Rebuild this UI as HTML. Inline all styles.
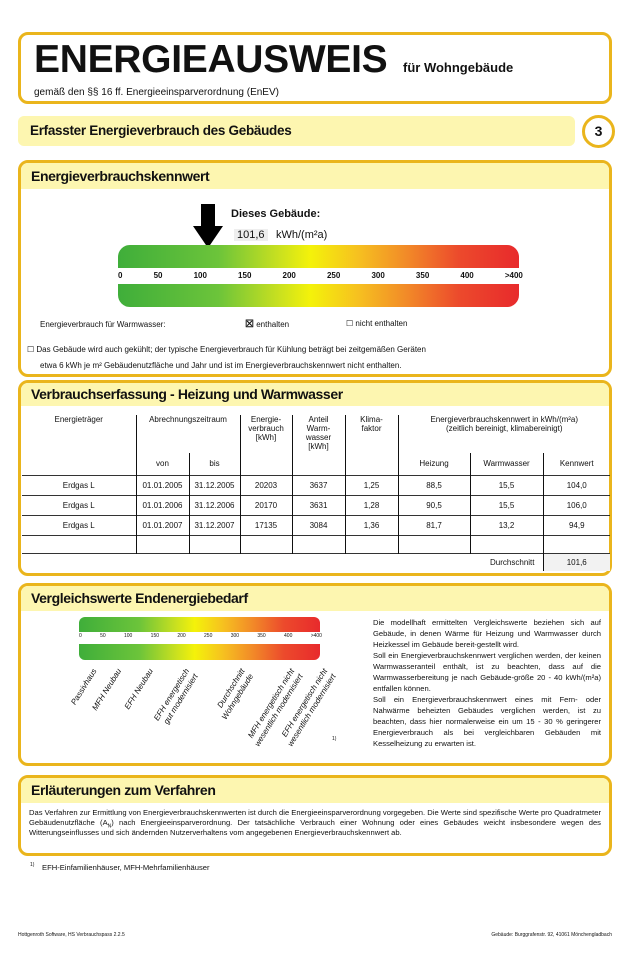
<!DOCTYPE html>
<html><head><meta charset="utf-8"><style>
*{margin:0;padding:0;box-sizing:border-box}
body{width:644px;height:960px;background:#fff;position:relative;font-family:"Liberation Sans",sans-serif;color:#111;overflow:hidden}
.a{position:absolute;white-space:nowrap}
.box{position:absolute;border:3px solid #eab51c;border-radius:10px;background:#fff;overflow:hidden}
.hd{position:absolute;left:0;right:0;top:0;background:#fdf6b0;font-weight:bold;font-size:14px;letter-spacing:-0.4px;padding-left:10px}
.grad{background:linear-gradient(90deg,#3fae3a 0%,#6cc43a 25%,#c8e020 40%,#f4f20a 48%,#f6c020 60%,#f28a28 72%,#ec4a2c 85%,#e82a2c 100%)}
.fs{font-size:8px}
table{border-collapse:collapse;font-size:8px}
td{text-align:center;border-color:#555}
.rot{position:absolute;transform-origin:right top;transform:rotate(-58deg);font-style:italic;font-size:8px;text-align:right;white-space:nowrap;line-height:10px}
</style></head><body>

<div class="box" style="left:18px;top:32px;width:594px;height:72px"></div>
<div class="a" style="left:34px;top:38px;font-size:39px;font-weight:bold;letter-spacing:-0.3px">ENERGIEAUSWEIS</div>
<div class="a" style="left:403px;top:60px;font-size:13px;font-weight:bold">für Wohngebäude</div>
<div class="a" style="left:34px;top:87px;font-size:10px">gemäß den §§ 16 ff. Energieeinsparverordnung (EnEV)</div>

<div class="a" style="left:18px;top:116px;width:557px;height:30px;background:#fdf6b0;border-radius:6px"></div>
<div class="a" style="left:30px;top:123px;font-size:13.5px;font-weight:bold;letter-spacing:-0.3px">Erfasster Energieverbrauch des Gebäudes</div>
<div class="a" style="left:582px;top:115px;width:33px;height:33px;border:3px solid #eab51c;border-radius:50%;text-align:center;font-weight:bold;font-size:14px;line-height:27px">3</div>

<div class="box" style="left:18px;top:160px;width:594px;height:217px"><div class="hd" style="height:26px;line-height:26px">Energieverbrauchskennwert</div></div>
<svg class="a" style="left:193px;top:204px" width="30" height="44"><polygon points="8,0 22,0 22,22 30,22 15,44 0,22 8,22" fill="#000"/></svg>
<div class="a" style="left:231px;top:208px;font-size:11px;font-weight:bold">Dieses Gebäude:</div>
<div class="a" style="left:234px;top:229px;font-size:11px;background:#eee;padding:0 3px">101,6</div>
<div class="a" style="left:276px;top:229px;font-size:11px">kWh/(m²a)</div>
<div class="a grad" style="left:118px;top:245px;width:401px;height:23px;border-radius:12px 12px 0 0"></div>
<div class="a grad" style="left:118px;top:284px;width:401px;height:23px;border-radius:0 0 12px 12px"></div>
<div class="a" style="left:118px;top:271px;width:405px;font-size:8px;font-weight:bold;display:flex;justify-content:space-between"><span>0</span><span>50</span><span>100</span><span>150</span><span>200</span><span>250</span><span>300</span><span>350</span><span>400</span><span>&gt;400</span></div>
<div class="a fs" style="left:40px;top:320px">Energieverbrauch für Warmwasser:</div>
<div class="a fs" style="left:245px;top:319px"><b style="font-size:10px">☒</b> enthalten</div>
<div class="a fs" style="left:346px;top:319px">☐ nicht enthalten</div>
<div class="a fs" style="left:27px;top:345px">☐ Das Gebäude wird auch gekühlt; der typische Energieverbrauch für Kühlung beträgt bei zeitgemäßen Geräten</div>
<div class="a fs" style="left:40px;top:361px">etwa 6 kWh je m² Gebäudenutzfläche und Jahr und ist im Energieverbrauchskennwert nicht enthalten.</div>

<div class="box" style="left:18px;top:380px;width:594px;height:196px"><div class="hd" style="height:23px;line-height:23px">Verbrauchserfassung - Heizung und Warmwasser</div></div>
<table class="a" style="left:22px;top:415px;width:588px">
<tr style="height:38px"><td rowspan="2" style="width:114px;vertical-align:top">Energieträger</td><td colspan="2" style="border-left:1px solid;vertical-align:top">Abrechnungszeitraum</td><td rowspan="2" style="width:52px;border-left:1px solid;vertical-align:top">Energie-<br>verbrauch<br>[kWh]</td><td rowspan="2" style="width:53px;border-left:1px solid;vertical-align:top">Anteil<br>Warm-<br>wasser<br>[kWh]</td><td rowspan="2" style="width:53px;border-left:1px solid;vertical-align:top">Klima-<br>faktor</td><td colspan="3" style="border-left:1px solid;vertical-align:top">Energieverbrauchskennwert in kWh/(m²a)<br>(zeitlich bereinigt, klimabereinigt)</td></tr>
<tr style="height:22px"><td style="width:53px;border-left:1px solid">von</td><td style="width:51px;border-left:1px solid">bis</td><td style="width:72px;border-left:1px solid">Heizung</td><td style="width:73px;border-left:1px solid">Warmwasser</td><td style="border-left:1px solid">Kennwert</td></tr>
<tr style="height:20px;border-top:1px solid #333"><td>Erdgas L</td><td style="border-left:1px solid">01.01.2005</td><td style="border-left:1px solid">31.12.2005</td><td style="border-left:1px solid">20203</td><td style="border-left:1px solid">3637</td><td style="border-left:1px solid">1,25</td><td style="border-left:1px solid">88,5</td><td style="border-left:1px solid">15,5</td><td style="border-left:1px solid">104,0</td></tr>
<tr style="height:20px;border-top:1px solid #333"><td>Erdgas L</td><td style="border-left:1px solid">01.01.2006</td><td style="border-left:1px solid">31.12.2006</td><td style="border-left:1px solid">20170</td><td style="border-left:1px solid">3631</td><td style="border-left:1px solid">1,28</td><td style="border-left:1px solid">90,5</td><td style="border-left:1px solid">15,5</td><td style="border-left:1px solid">106,0</td></tr>
<tr style="height:20px;border-top:1px solid #333"><td>Erdgas L</td><td style="border-left:1px solid">01.01.2007</td><td style="border-left:1px solid">31.12.2007</td><td style="border-left:1px solid">17135</td><td style="border-left:1px solid">3084</td><td style="border-left:1px solid">1,36</td><td style="border-left:1px solid">81,7</td><td style="border-left:1px solid">13,2</td><td style="border-left:1px solid">94,9</td></tr>
<tr style="height:18px;border-top:1px solid #333"><td></td><td style="border-left:1px solid"></td><td style="border-left:1px solid"></td><td style="border-left:1px solid"></td><td style="border-left:1px solid"></td><td style="border-left:1px solid"></td><td style="border-left:1px solid"></td><td style="border-left:1px solid"></td><td style="border-left:1px solid"></td></tr>
<tr style="height:18px;border-top:1px solid #333"><td colspan="8" style="text-align:right;padding-right:8px">Durchschnitt</td><td style="border-left:1px solid;background:#f2f2f2">101,6</td></tr>
</table>

<div class="box" style="left:18px;top:583px;width:594px;height:183px"><div class="hd" style="height:25px;line-height:25px">Vergleichswerte Endenergiebedarf</div></div>
<div class="a grad" style="left:79px;top:617px;width:241px;height:15px;border-radius:6px 6px 0 0"></div>
<div class="a grad" style="left:79px;top:644px;width:241px;height:16px;border-radius:0 0 6px 6px"></div>
<div class="a" style="left:79px;top:633px;width:243px;font-size:5px;display:flex;justify-content:space-between"><span>0</span><span>50</span><span>100</span><span>150</span><span>200</span><span>250</span><span>300</span><span>350</span><span>400</span><span>&gt;400</span></div>
<div class="rot" style="right:553px;top:667px">Passivhaus</div>
<div class="rot" style="right:528px;top:667px">MFH Neubau</div>
<div class="rot" style="right:497px;top:667px">EFH Neubau</div>
<div class="rot" style="right:460px;top:667px">EFH energetisch<br>gut modernisiert</div>
<div class="rot" style="right:405px;top:667px">Durchschnitt<br>Wohngebäude</div>
<div class="rot" style="right:355px;top:667px">MFH energetisch nicht<br>wesentlich modernisiert</div>
<div class="rot" style="right:322px;top:667px">EFH energetisch nicht<br>wesentlich modernisiert</div>
<div class="a" style="left:332px;top:736px;font-size:5px">1)</div>
<div class="a" style="left:373px;top:617px;width:228px;font-size:7.6px;line-height:11px;white-space:normal;text-align:justify">Die modellhaft ermittelten Vergleichswerte beziehen sich auf Gebäude, in denen Wärme für Heizung und Warmwasser durch Heizkessel im Gebäude bereit-gestellt wird.<br>Soll ein Energieverbrauchskennwert verglichen werden, der keinen Warmwasseranteil enthält, ist zu beachten, dass auf die Warmwasserbereitung je nach Gebäude-größe 20 - 40 kWh/(m²a) entfallen können.<br>Soll ein Energieverbrauchskennwert eines mit Fern- oder Nahwärme beheizten Gebäudes verglichen werden, ist zu beachten, dass hier normalerweise ein um 15 - 30 % geringerer Energieverbrauch als bei vergleichbaren Gebäuden mit Kesselheizung zu erwarten ist.</div>

<div class="box" style="left:18px;top:775px;width:594px;height:81px"><div class="hd" style="height:25px;line-height:25px">Erläuterungen zum Verfahren</div></div>
<div class="a" style="left:29px;top:808px;width:572px;font-size:7.6px;line-height:10px;white-space:normal;text-align:justify">Das Verfahren zur Ermittlung von Energieverbrauchskennwerten ist durch die Energieeinsparverordnung vorgegeben. Die Werte sind spezifische Werte pro Quadratmeter Gebäudenutzfläche (A<sub style="font-size:5px;line-height:0">N</sub>) nach Energieeinsparverordnung. Der tatsächliche Verbrauch einer Wohnung oder eines Gebäudes weicht insbesondere wegen des Witterungseinflusses und sich ändernden Nutzerverhaltens vom angegebenen Energieverbrauchskennwert ab.</div>
<div class="a" style="left:30px;top:862px;font-size:5px">1)</div>
<div class="a" style="left:42px;top:863px;font-size:7.6px">EFH-Einfamilienhäuser, MFH-Mehrfamilienhäuser</div>
<div class="a" style="left:18px;top:932px;font-size:5px">Hottgenroth Software, HS Verbrauchspass 2.2.5</div>
<div class="a" style="right:32px;top:932px;font-size:5px">Gebäude: Burggrafenstr. 92, 41061 Mönchengladbach</div>
</body></html>
